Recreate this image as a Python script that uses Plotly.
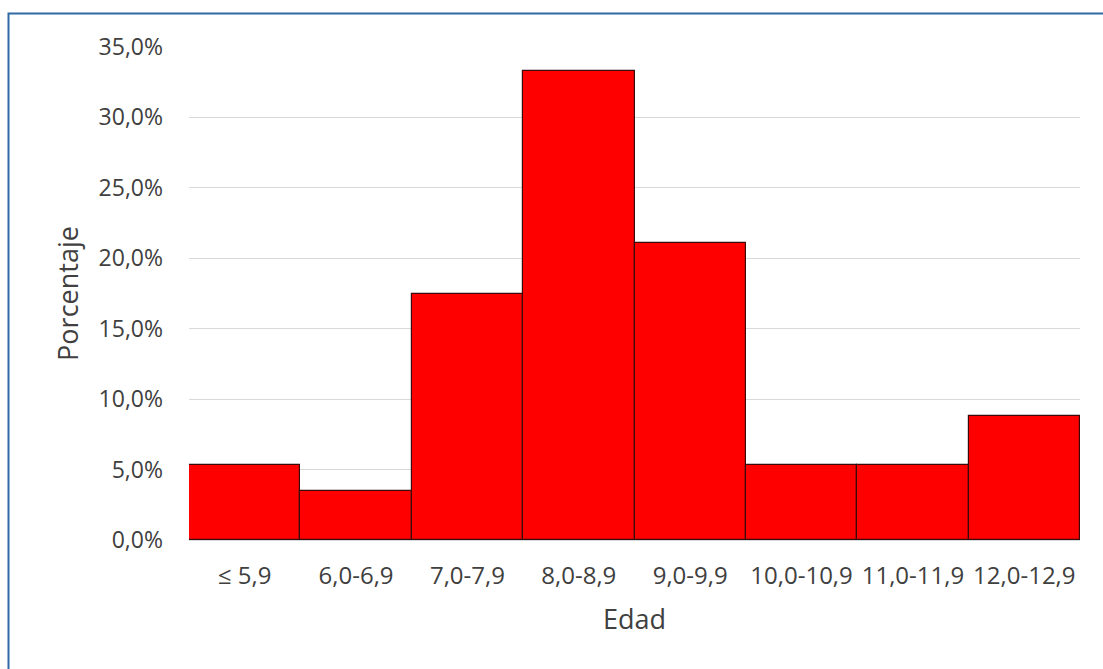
import plotly.graph_objects as go

# Age groups and the share of children in each
edad = ["≤ 5,9", "6,0-6,9", "7,0-7,9", "8,0-8,9", "9,0-9,9",
        "10,0-10,9", "11,0-11,9", "12,0-12,9"]
porcentaje = [5.3, 3.5, 17.5, 33.3, 21.1, 5.3, 5.3, 8.8]

W, H = 1103, 669
L, R, T, B = 189, 23, 47, 129
pw, ph = W - L - R, H - T - B

font_family = "Open Sans, Noto Sans, sans-serif"
text_color = "#404040"

fig = go.Figure(
    go.Bar(
        x=edad,
        y=[v / 100 for v in porcentaje],
        marker=dict(color="#ff0000", line=dict(color="#3b0a0a", width=1.2)),
        hoverinfo="x+y",
    )
)

fig.update_layout(
    width=W,
    height=H,
    margin=dict(l=L, r=R, t=T, b=B),
    paper_bgcolor="white",
    plot_bgcolor="white",
    bargap=0,
    separators=",.",
    showlegend=False,
    font=dict(family=font_family, color=text_color),
    xaxis=dict(
        title=dict(text="Edad", font=dict(size=27, color=text_color), standoff=20),
        tickfont=dict(size=24, color=text_color),
        ticklabelstandoff=19,
        showgrid=False,
        showline=False,
        zeroline=False,
    ),
    yaxis=dict(
        title=dict(text="Porcentaje", font=dict(size=27, color=text_color), standoff=12),
        range=[0, 0.35],
        dtick=0.05,
        tickformat=".1%",
        tickfont=dict(size=23, color=text_color),
        ticklabelstandoff=25,
        gridcolor="#d9d9d9",
        gridwidth=1,
        zeroline=True,
        zerolinecolor="#d9d9d9",
        showline=False,
    ),
)

# Blue frame around the chart area (top and left edges visible)
x_left = (8.5 - L) / pw
x_right = (W + 20 - L) / pw
y_top = 1 + (T - 13.5) / ph
y_bottom = -(H + 20 - (T + ph)) / ph
fig.add_shape(
    type="rect", xref="paper", yref="paper",
    x0=x_left, x1=x_right, y0=y_bottom, y1=y_top,
    line=dict(color="#2f6aa3", width=2), layer="below",
)

fig.write_html("out.html", config={"displayModeBar": False})
